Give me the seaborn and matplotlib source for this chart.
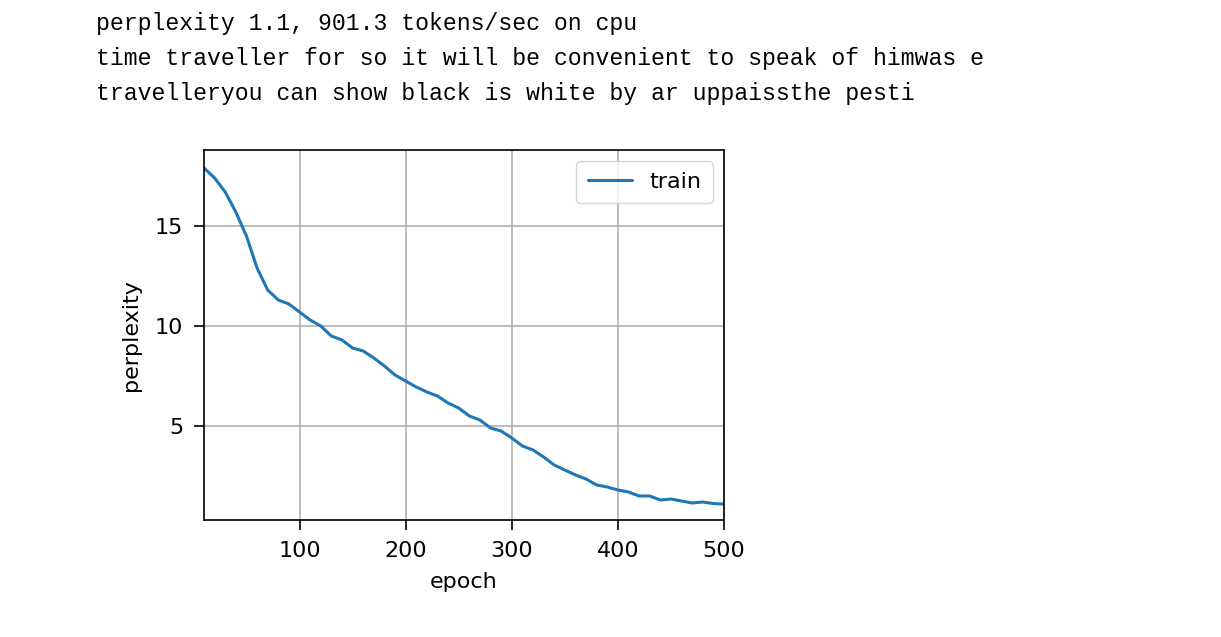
import matplotlib
matplotlib.use("Agg")
import matplotlib.pyplot as plt
import seaborn as sns
import pandas as pd

header_lines = [
    "perplexity 1.1, 901.3 tokens/sec on cpu",
    "time traveller for so it will be convenient to speak of himwas e",
    "travelleryou can show black is white by ar uppaissthe pesti",
]

epochs = list(range(10, 501, 10))
perplexity = [17.9, 17.4, 16.7, 15.7, 14.5, 12.9, 11.8, 11.3, 11.1, 10.7,
              10.3, 10.0, 9.5, 9.3, 8.9, 8.75, 8.4, 8.0, 7.55, 7.25,
              6.95, 6.7, 6.5, 6.15, 5.9, 5.5, 5.3, 4.9, 4.75, 4.4,
              4.0, 3.8, 3.45, 3.05, 2.8, 2.55, 2.35, 2.05, 1.95, 1.8,
              1.7, 1.5, 1.5, 1.3, 1.35, 1.25, 1.15, 1.2, 1.12, 1.1]

df = pd.DataFrame({"epoch": epochs, "perplexity": perplexity})

sns.set_style("ticks")
plt.rcParams['font.family'] = ['DejaVu Sans']
plt.rcParams['text.color'] = 'black'
plt.rcParams['axes.labelcolor'] = 'black'
plt.rcParams['xtick.color'] = 'black'
plt.rcParams['ytick.color'] = 'black'

fig = plt.figure(figsize=(12.21, 6.37), dpi=100)
for i, line in enumerate(header_lines):
    fig.text(96 / 1221, 1 - (30 + 35 * i) / 637, line, family='Liberation Mono',
             fontsize=16.7, va='baseline', ha='left', color='black')

ax = fig.add_axes([204 / 1221, 1 - 520 / 637, 520 / 1221, 370 / 637])
sns.lineplot(data=df, x="epoch", y="perplexity", ax=ax, color='#1f77b4',
             linewidth=2.2, label="train")
ax.set_xlim(10, 500)
ax.set_ylim(0.3, 18.8)
ax.set_xticks([100, 200, 300, 400, 500])
ax.set_yticks([5, 10, 15])
ax.grid(True, color='#b0b0b0', linewidth=1.2)
ax.tick_params(labelsize=16, length=7, width=1.2, pad=8)
ax.set_xlabel("epoch", fontsize=16, labelpad=8)
ax.set_ylabel("perplexity", fontsize=16, labelpad=10)
ax.legend(loc='upper right', fontsize=16, borderpad=0.5, edgecolor='#cccccc',
          fancybox=True, framealpha=0.8)
for s in ax.spines.values():
    s.set_linewidth(1.2)
    s.set_color('black')

fig.savefig("out.png", dpi=100)
